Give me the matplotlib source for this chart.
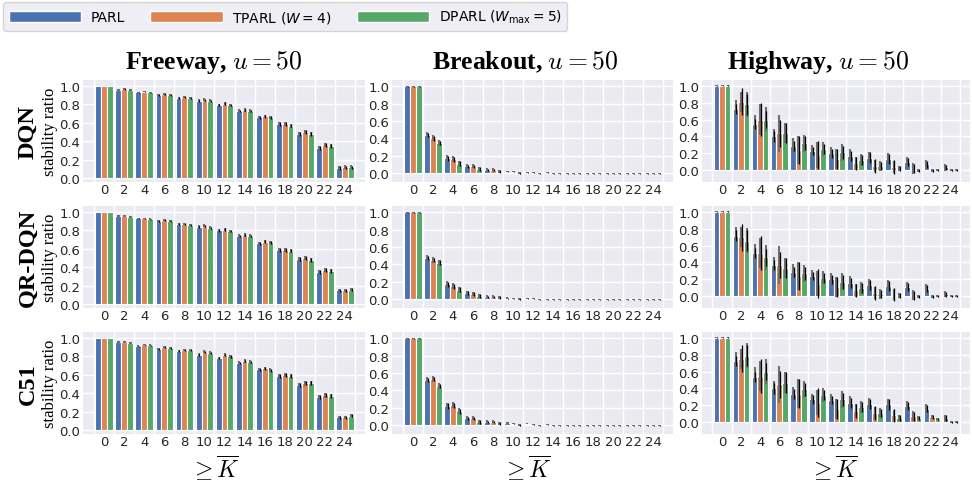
import matplotlib.pyplot as plt
from matplotlib.patches import Patch
import numpy as np

# x axis bins (>= K)
K_VALUES = [0, 2, 4, 6, 8, 10, 12, 14, 16, 18, 20, 22, 24]
GAMES = ['Freeway', 'Breakout', 'Highway']
MODELS = ['DQN', 'QR-DQN', 'C51']
METHODS = ['PARL', r'TPARL ($W=4$)', r'DPARL ($W_{\max}=5$)']
COLORS = ['#4C72B0', '#DD8452', '#55A868']

# ---------- Freeway ----------
freeway_dqn_parl  = [1.00, 0.96, 0.93, 0.90, 0.87, 0.84, 0.79, 0.73, 0.66, 0.59, 0.48, 0.33, 0.11]
freeway_dqn_tparl = [1.00, 0.97, 0.94, 0.91, 0.88, 0.85, 0.81, 0.74, 0.67, 0.59, 0.50, 0.36, 0.12]
freeway_dqn_dparl = [1.00, 0.96, 0.93, 0.90, 0.87, 0.84, 0.79, 0.73, 0.66, 0.57, 0.48, 0.35, 0.12]
freeway_qr_parl   = [1.00, 0.96, 0.93, 0.90, 0.87, 0.84, 0.80, 0.74, 0.66, 0.59, 0.49, 0.35, 0.15]
freeway_qr_tparl  = [1.00, 0.96, 0.93, 0.91, 0.87, 0.85, 0.81, 0.75, 0.68, 0.59, 0.50, 0.37, 0.15]
freeway_qr_dparl  = [1.00, 0.95, 0.92, 0.90, 0.86, 0.83, 0.79, 0.74, 0.67, 0.58, 0.48, 0.36, 0.16]
freeway_c51_parl  = [1.00, 0.96, 0.91, 0.88, 0.86, 0.82, 0.78, 0.73, 0.66, 0.59, 0.49, 0.36, 0.14]
freeway_c51_tparl = [1.00, 0.96, 0.93, 0.90, 0.87, 0.85, 0.82, 0.75, 0.67, 0.60, 0.51, 0.38, 0.14]
freeway_c51_dparl = [1.00, 0.95, 0.92, 0.89, 0.87, 0.84, 0.80, 0.74, 0.65, 0.59, 0.51, 0.37, 0.16]

# ---------- Breakout ----------
breakout_dqn_parl  = [1.00, 0.44, 0.17, 0.08, 0.04, 0.020, 0.010, 0.005, 0.0, 0.0, 0.0, 0.0, 0.0]
breakout_dqn_tparl = [1.00, 0.40, 0.16, 0.08, 0.04, 0.020, 0.008, 0.0, 0.0, 0.0, 0.0, 0.0, 0.0]
breakout_dqn_dparl = [1.00, 0.35, 0.11, 0.05, 0.02, 0.005, 0.0, 0.0, 0.0, 0.0, 0.0, 0.0, 0.0]
breakout_qr_parl   = [1.00, 0.47, 0.17, 0.07, 0.03, 0.012, 0.006, 0.0, 0.0, 0.0, 0.0, 0.0, 0.0]
breakout_qr_tparl  = [1.00, 0.45, 0.15, 0.06, 0.03, 0.010, 0.004, 0.0, 0.0, 0.0, 0.0, 0.0, 0.0]
breakout_qr_dparl  = [1.00, 0.42, 0.11, 0.04, 0.02, 0.003, 0.0, 0.0, 0.0, 0.0, 0.0, 0.0, 0.0]
breakout_c51_parl  = [1.00, 0.52, 0.22, 0.08, 0.04, 0.030, 0.015, 0.005, 0.0, 0.0, 0.0, 0.0, 0.0]
breakout_c51_tparl = [1.00, 0.53, 0.23, 0.08, 0.04, 0.020, 0.005, 0.0, 0.0, 0.0, 0.0, 0.0, 0.0]
breakout_c51_dparl = [1.00, 0.45, 0.16, 0.04, 0.02, 0.005, 0.0, 0.0, 0.0, 0.0, 0.0, 0.0, 0.0]

# ---------- Highway ----------
highway_dqn_parl  = [1.00, 0.73, 0.55, 0.40, 0.29, 0.23, 0.20, 0.17, 0.15, 0.13, 0.10, 0.07, 0.035]
highway_dqn_tparl = [1.00, 0.81, 0.60, 0.44, 0.24, 0.18, 0.13, 0.08, 0.05, 0.04, 0.02, 0.0, 0.0]
highway_dqn_dparl = [1.00, 0.78, 0.60, 0.44, 0.32, 0.25, 0.21, 0.12, 0.05, 0.015, 0.0, 0.0, 0.0]
highway_qr_parl   = [1.00, 0.72, 0.51, 0.37, 0.29, 0.24, 0.20, 0.16, 0.13, 0.12, 0.11, 0.09, 0.025]
highway_qr_tparl  = [1.00, 0.70, 0.51, 0.37, 0.24, 0.15, 0.11, 0.07, 0.04, 0.02, 0.01, 0.0, 0.0]
highway_qr_dparl  = [1.00, 0.66, 0.46, 0.33, 0.27, 0.22, 0.17, 0.10, 0.025, 0.01, 0.0, 0.0, 0.0]
highway_c51_parl  = [1.00, 0.73, 0.54, 0.40, 0.33, 0.27, 0.26, 0.23, 0.22, 0.21, 0.19, 0.16, 0.05]
highway_c51_tparl = [1.00, 0.75, 0.55, 0.45, 0.34, 0.23, 0.16, 0.13, 0.11, 0.08, 0.07, 0.06, 0.0]
highway_c51_dparl = [1.00, 0.79, 0.60, 0.47, 0.39, 0.32, 0.27, 0.18, 0.11, 0.05, 0.05, 0.04, 0.0]

# Error bars (half widths): grey = seed spread, black = std
freeway_err_grey  = [0.005, 0.010, 0.010, 0.012, 0.012, 0.015, 0.015, 0.020, 0.020, 0.020, 0.025, 0.025, 0.020]
freeway_err_black = [0.005, 0.008, 0.008, 0.010, 0.010, 0.012, 0.012, 0.015, 0.015, 0.018, 0.020, 0.020, 0.018]
breakout_err_grey  = [0.005, 0.035, 0.035, 0.025, 0.015, 0.010, 0.006, 0.004, 0.004, 0.004, 0.004, 0.004, 0.004]
breakout_err_black = [0.005, 0.025, 0.030, 0.020, 0.012, 0.008, 0.005, 0.004, 0.004, 0.004, 0.004, 0.004, 0.004]
highway_err_grey_parl   = [0.005, 0.10, 0.11, 0.09, 0.09, 0.07, 0.07, 0.08, 0.07, 0.07, 0.06, 0.05, 0.04]
highway_err_black_parl  = [0.005, 0.06, 0.06, 0.06, 0.06, 0.05, 0.05, 0.06, 0.06, 0.06, 0.05, 0.04, 0.03]
highway_err_grey_tparl  = [0.005, 0.12, 0.18, 0.22, 0.17, 0.15, 0.12, 0.08, 0.07, 0.07, 0.06, 0.02, 0.01]
highway_err_black_tparl = [0.005, 0.16, 0.20, 0.16, 0.17, 0.17, 0.12, 0.08, 0.08, 0.08, 0.05, 0.02, 0.01]
highway_err_grey_dparl  = [0.005, 0.15, 0.15, 0.12, 0.10, 0.08, 0.10, 0.07, 0.06, 0.03, 0.02, 0.01, 0.01]
highway_err_black_dparl = [0.005, 0.12, 0.10, 0.12, 0.08, 0.06, 0.08, 0.06, 0.05, 0.03, 0.02, 0.01, 0.01]

DATA = {
    ('Freeway', 'DQN'): [freeway_dqn_parl, freeway_dqn_tparl, freeway_dqn_dparl],
    ('Freeway', 'QR-DQN'): [freeway_qr_parl, freeway_qr_tparl, freeway_qr_dparl],
    ('Freeway', 'C51'): [freeway_c51_parl, freeway_c51_tparl, freeway_c51_dparl],
    ('Breakout', 'DQN'): [breakout_dqn_parl, breakout_dqn_tparl, breakout_dqn_dparl],
    ('Breakout', 'QR-DQN'): [breakout_qr_parl, breakout_qr_tparl, breakout_qr_dparl],
    ('Breakout', 'C51'): [breakout_c51_parl, breakout_c51_tparl, breakout_c51_dparl],
    ('Highway', 'DQN'): [highway_dqn_parl, highway_dqn_tparl, highway_dqn_dparl],
    ('Highway', 'QR-DQN'): [highway_qr_parl, highway_qr_tparl, highway_qr_dparl],
    ('Highway', 'C51'): [highway_c51_parl, highway_c51_tparl, highway_c51_dparl],
}
ERRORS = {
    'Freeway': [(freeway_err_grey, freeway_err_black)] * 3,
    'Breakout': [(breakout_err_grey, breakout_err_black)] * 3,
    'Highway': [(highway_err_grey_parl, highway_err_black_parl),
                (highway_err_grey_tparl, highway_err_black_tparl),
                (highway_err_grey_dparl, highway_err_black_dparl)],
}
YLIMS = {'Freeway': (-0.04, 1.065), 'Breakout': (-0.10, 1.07), 'Highway': (-0.14, 1.07)}

W, H = 972, 485
COL_X = [(83, 365), (392, 673), (702, 970)]
ROW_Y = [(81, 183), (207, 309), (333, 435)]
TITLE_X = [214, 525, 818]
XLABEL_X = [215, 527, 834]


def drawPanel(ax, game, model):
    x = np.arange(len(K_VALUES))
    bw = 0.29
    for m in range(3):
        vals = np.array(DATA[(game, model)][m])
        grey, black = ERRORS[game][m]
        pos = x + (m - 1) * bw
        ax.bar(pos, vals, width=bw, color=COLORS[m], edgecolor='white',
               linewidth=0.8, zorder=2)
        ax.vlines(pos, vals - np.array(grey), vals + np.array(grey),
                  color='#707070', linewidth=1.5, zorder=3)
        ax.vlines(pos + 0.04, vals - np.array(black), vals + np.array(black),
                  color='black', linewidth=0.9, zorder=4)

    ax.set_facecolor('#EAEAF2')
    for s in ax.spines.values():
        s.set_visible(False)
    ax.set_xlim(-1.05, 13.0)
    ax.set_ylim(*YLIMS[game])
    ax.set_xticks(x)
    ax.set_xticklabels([str(k) for k in K_VALUES])
    ax.set_xticks(np.arange(-0.5, 13, 1), minor=True)
    ax.set_yticks([0.0, 0.2, 0.4, 0.6, 0.8, 1.0])
    ax.set_yticklabels(['0.0', '0.2', '0.4', '0.6', '0.8', '1.0'])
    ax.tick_params(axis='both', which='both', length=0, labelsize=9.5,
                   labelcolor='#262626')
    ax.tick_params(axis='x', pad=1)
    ax.tick_params(axis='y', pad=2)
    ax.grid(False)
    ax.grid(True, axis='x', which='minor', color='white', linewidth=1.0, zorder=0)
    ax.grid(True, axis='y', which='major', color='white', linewidth=1.0, zorder=0)
    ax.set_axisbelow(True)


fig = plt.figure(figsize=(W / 100, H / 100), dpi=100)

for r, model in enumerate(MODELS):
    for c, game in enumerate(GAMES):
        x0, x1 = COL_X[c]
        y0, y1 = ROW_Y[r]
        ax = fig.add_axes([x0 / W, 1 - y1 / H, (x1 - x0) / W, (y1 - y0) / H])
        drawPanel(ax, game, model)

    # Row labels
    yc = 1 - (ROW_Y[r][0] + ROW_Y[r][1]) / 2 / H
    fig.text(28 / W, yc, model, rotation=90, ha='center', va='center',
             family='Liberation Serif', fontweight='bold', fontsize=17.5)
    fig.text(50 / W, yc, 'stability ratio', rotation=90, ha='center', va='center',
             family='Liberation Serif', fontsize=12)

# Column titles and x labels
for c, game in enumerate(GAMES):
    fig.text(TITLE_X[c] / W, 1 - 62 / H, game + r', $u=50$', ha='center', va='center',
             family='Liberation Serif', fontweight='bold', fontsize=18.5,
             math_fontfamily='cm')
    fig.text(XLABEL_X[c] / W, 1 - 468 / H, r'$\geq\overline{K}$', ha='center',
             va='center', fontsize=17, math_fontfamily='cm')

handles = [Patch(facecolor=COLORS[i], edgecolor='white', label=METHODS[i]) for i in range(3)]
leg = fig.legend(handles=handles, loc='upper left', bbox_to_anchor=(0.0, 1.0),
                 ncol=3, fontsize=10, handlelength=5.2, handleheight=0.8,
                 handletextpad=0.7, columnspacing=1.8, frameon=True,
                 borderpad=0.4, borderaxespad=0.25, fancybox=True)
leg.get_frame().set_facecolor('#EAEAF2')
leg.get_frame().set_edgecolor('#cccccc')

plt.savefig('out.png', dpi=100)
